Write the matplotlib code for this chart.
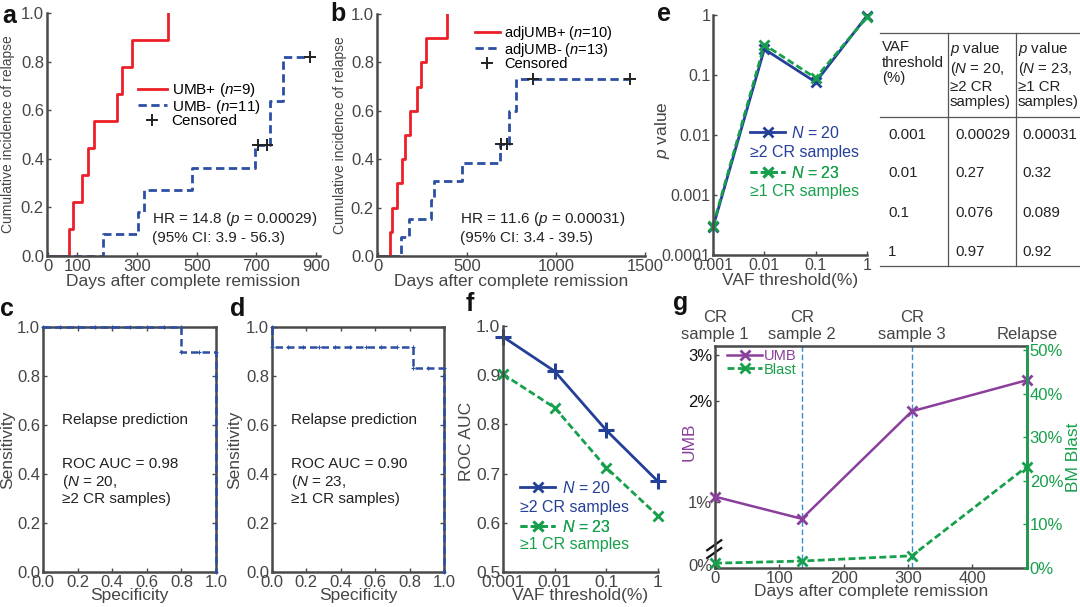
import matplotlib
matplotlib.use("Agg")
import matplotlib.pyplot as plt
from matplotlib.lines import Line2D
import matplotlib.ticker as mticker

plt.rcParams["font.family"] = ["Liberation Sans", "DejaVu Sans"]
plt.rcParams["mathtext.fontset"] = "custom"
plt.rcParams["mathtext.rm"] = "Liberation Sans"
plt.rcParams["mathtext.it"] = "Liberation Sans:italic"

# ---- data ----
# a: cumulative incidence, UMB+ / UMB-
umb_pos_days = [0, 73, 86, 114, 136, 156, 231, 251, 282, 402]
umb_pos_cir = [0, 0.111, 0.222, 0.333, 0.444, 0.556, 0.667, 0.778, 0.889, 1.0]
umb_neg_days = [0, 187, 302, 324, 485, 695, 745, 790, 880]
umb_neg_cir = [0, 0.091, 0.182, 0.273, 0.364, 0.455, 0.636, 0.818, 0.818]
umb_neg_cens_days = [705, 735, 880]
umb_neg_cens_cir = [0.455, 0.455, 0.818]

# b: adjusted UMB
adj_pos_days = [0, 64, 79, 107, 135, 150, 179, 220, 242, 267, 389]
adj_pos_cir = [0, 0.1, 0.2, 0.3, 0.4, 0.5, 0.6, 0.7, 0.8, 0.9, 1.0]
adj_neg_days = [0, 130, 173, 299, 314, 474, 684, 735, 775, 1413]
adj_neg_cir = [0, 0.077, 0.154, 0.231, 0.308, 0.385, 0.462, 0.6, 0.731, 0.731]
adj_neg_cens_days = [692, 725, 870, 1413]
adj_neg_cens_cir = [0.462, 0.462, 0.731, 0.731]

# c, d: ROC curves
spec_c = [0.0, 0.1, 0.2, 0.3, 0.4, 0.5, 0.6, 0.7, 0.8, 0.8, 0.9, 1.0, 1.0]
sens_c = [1.0, 1.0, 1.0, 1.0, 1.0, 1.0, 1.0, 1.0, 1.0, 0.9, 0.9, 0.9, 0.0]
spec_d = [0.0, 0.0, 0.091, 0.182, 0.273, 0.364, 0.455, 0.545, 0.636, 0.727,
          0.818, 0.818, 0.909, 1.0, 1.0]
sens_d = [1.0, 0.917, 0.917, 0.917, 0.917, 0.917, 0.917, 0.917, 0.917, 0.917,
          0.917, 0.833, 0.833, 0.833, 0.0]

# e, f: VAF threshold sweep
vaf_thresholds = [0.001, 0.01, 0.1, 1]
pval_n20 = [0.00029, 0.27, 0.076, 0.97]
pval_n23 = [0.00031, 0.32, 0.089, 0.92]
auc_n20 = [0.978, 0.908, 0.788, 0.684]
auc_n23 = [0.902, 0.834, 0.712, 0.614]

# g: single patient course
g_days = [0, 135, 306, 485]
g_umb = [1.05, 0.83, 1.9, 2.21]
g_blast = [1.1, 1.6, 2.8, 23.3]
g_events = ["CR\nsample 1", "CR\nsample 2", "CR\nsample 3", "Relapse"]

RED = "#ec1f27"
BLUE = "#2c4ea3"
DBLUE = "#243f98"
GREEN = "#17a04b"
PURPLE = "#8a3f9c"
LBLUE = "#3a8fd2"
GREY = "#454545"
INK = "#222222"
SPINE = "#4a4a4a"
DASH = (0, (3, 1.6))
DOT = (0, (2.5, 1.2))

W, H = 1080, 607
fig = plt.figure(figsize=(W / 100, H / 100), dpi=100)


def px_axes(left, top, right, bottom):
    return fig.add_axes([left / W, 1 - bottom / H, (right - left) / W, (bottom - top) / H])


def fig_text(x, y, s, **kw):
    fig.text(x / W, 1 - y / H, s, **kw)


def style(ax, box=False, fs=12):
    for side in ["left", "bottom", "top", "right"]:
        ax.spines[side].set_color(SPINE)
        ax.spines[side].set_linewidth(1.8)
        if not box and side in ("top", "right"):
            ax.spines[side].set_visible(False)
    ax.tick_params(direction="in", length=3, width=1, colors=SPINE,
                   labelcolor=GREY, labelsize=fs, pad=2,
                   top=box, right=box)


def one_legend(ax, handle, label, x, y, color, fs=11.5):
    leg = ax.legend([handle], [label], loc="center left", bbox_to_anchor=(x, y),
                    frameon=False, fontsize=fs, handlelength=2.2, handletextpad=0.4,
                    borderaxespad=0, borderpad=0)
    leg.get_texts()[0].set_color(color)
    ax.add_artist(leg)


# ---------- a ----------
ax = px_axes(46.7, 13, 320, 256)
style(ax)
ax.step(umb_pos_days, umb_pos_cir, where="post", color=RED, lw=2, label="UMB+ ($n$=9)")
ax.step(umb_neg_days, umb_neg_cir, where="post", color=BLUE, lw=2, ls=DASH,
        label="UMB- ($n$=11)")
ax.plot(umb_neg_cens_days, umb_neg_cens_cir, ls="none", marker="+", ms=9, mew=1.4,
        color=INK, label="Censored", clip_on=False)
ax.set_xlim(-3, 913)
ax.set_ylim(0, 1.0)
ax.set_xticks([0, 100, 300, 500, 700, 900])
ax.set_yticks([0, 0.2, 0.4, 0.6, 0.8, 1.0])
ax.yaxis.set_major_formatter(mticker.FormatStrFormatter("%.1f"))
ax.set_xlabel("Days after complete remission", fontsize=12.5, color=GREY, labelpad=0)
ax.set_ylabel("Cumulative incidence of relapse", fontsize=10, color=GREY)
ax.yaxis.set_label_coords(-0.116, 0.5)
ax.legend(loc="upper left", bbox_to_anchor=(0.334, 0.72), frameon=False, fontsize=11,
          handlelength=1.9, handletextpad=0.3, labelspacing=-0.1, borderaxespad=0,
          borderpad=0)
ax.text(0.385, 0.19, "HR = 14.8 ($p$ = 0.00029)\n(95% CI: 3.9 - 56.3)",
        transform=ax.transAxes, fontsize=11, color=INK, va="top", linespacing=1.25)

# ---------- b ----------
ax = px_axes(376.7, 14, 645, 256)
style(ax)
ax.step(adj_pos_days, adj_pos_cir, where="post", color=RED, lw=2, label="adjUMB+ ($n$=10)")
ax.step(adj_neg_days, adj_neg_cir, where="post", color=BLUE, lw=2, ls=DASH,
        label="adjUMB- ($n$=13)")
ax.plot(adj_neg_cens_days, adj_neg_cens_cir, ls="none", marker="+", ms=9, mew=1.4,
        color=INK, label="Censored", clip_on=False)
ax.set_xlim(-8, 1500)
ax.set_ylim(0, 1.0)
ax.set_xticks([0, 500, 1000, 1500])
ax.set_yticks([0, 0.2, 0.4, 0.6, 0.8, 1.0])
ax.yaxis.set_major_formatter(mticker.FormatStrFormatter("%.1f"))
ax.set_xlabel("Days after complete remission", fontsize=12.5, color=GREY, labelpad=0)
ax.set_ylabel("Cumulative incidence of relapse", fontsize=10, color=GREY)
ax.yaxis.set_label_coords(-0.11, 0.5)
ax.legend(loc="upper left", bbox_to_anchor=(0.366, 0.96), frameon=False, fontsize=10.5,
          handlelength=1.7, handletextpad=0.3, labelspacing=-0.08, borderaxespad=0,
          borderpad=0)
ax.text(0.31, 0.19, "HR = 11.6 ($p$ = 0.00031)\n(95% CI: 3.4 - 39.5)",
        transform=ax.transAxes, fontsize=11, color=INK, va="top", linespacing=1.25)

# ---------- c, d ----------
for left, right, spec, sens, auc, n, k, lx in [
        (43, 216, spec_c, sens_c, "0.98", "20", "2", -0.162),
        (272, 444, spec_d, sens_d, "0.90", "23", "1", -0.174)]:
    ax = px_axes(left, 327, right, 572)
    style(ax, box=True, fs=12)
    ax.plot(spec, sens, color=BLUE, lw=1.8, ls=DASH, marker="+", ms=3, mew=0.8,
            clip_on=False, zorder=3)
    ax.set_xlim(0, 1)
    ax.set_ylim(0, 1)
    ticks = [0, 0.2, 0.4, 0.6, 0.8, 1.0]
    ax.set_xticks(ticks)
    ax.set_yticks(ticks)
    ax.xaxis.set_major_formatter(mticker.FormatStrFormatter("%.1f"))
    ax.yaxis.set_major_formatter(mticker.FormatStrFormatter("%.1f"))
    ax.set_xlabel("Specificity", fontsize=12.5, color=GREY, labelpad=-1)
    ax.set_ylabel("Sensitivity", fontsize=12.5, color=GREY)
    ax.yaxis.set_label_coords(lx, 0.5)
    ax.text(0.11, 0.62, "Relapse prediction", transform=ax.transAxes, fontsize=11,
            color=INK, va="center")
    ax.text(0.11, 0.47, f"ROC AUC = {auc}\n($N$ = {n},\n≥{k} CR samples)",
            transform=ax.transAxes, fontsize=11, color=INK, va="top",
            linespacing=1.15)

# ---------- e ----------
ax = px_axes(713, 15, 867, 255)
style(ax, fs=11.5)
le20, = ax.plot(vaf_thresholds, pval_n20, color=DBLUE, lw=2, marker="x", ms=7, mew=2,
                clip_on=False)
le23, = ax.plot(vaf_thresholds, pval_n23, color=GREEN, lw=2, ls=DOT,
                marker="x", ms=7, mew=2, clip_on=False)
ax.set_xscale("log")
ax.set_yscale("log")
ax.set_xlim(0.001, 1)
ax.set_ylim(1e-4, 1)
ax.set_xticks(vaf_thresholds)
ax.set_xticklabels(["0.001", "0.01", "0.1", "1"])
ax.set_yticks([1e-4, 1e-3, 1e-2, 1e-1, 1])
ax.set_yticklabels(["0.0001", "0.001", "0.01", "0.1", "1"])
ax.minorticks_off()
ax.set_xlabel("VAF threshold(%)", fontsize=12.5, color=GREY, labelpad=0)
ax.set_ylabel("$p$ value", fontsize=12.5, color=GREY)
ax.yaxis.set_label_coords(-0.266, 0.52)
one_legend(ax, le20, "$N$ = 20", 0.24, 0.508, DBLUE)
one_legend(ax, le23, "$N$ = 23", 0.24, 0.342, GREEN)
ax.text(0.24, 0.429, "≥2 CR samples", transform=ax.transAxes, fontsize=11.5,
        color=DBLUE, va="center")
ax.text(0.24, 0.2625, "≥1 CR samples", transform=ax.transAxes, fontsize=11.5,
        color=GREEN, va="center")

# table next to e
line_kw = dict(color="#555555", lw=0.9)
for y in (33.3, 116.7, 266):
    fig.add_artist(Line2D([880 / W, 1], [1 - y / H, 1 - y / H], **line_kw))
for x in (947.7, 1015.7):
    fig.add_artist(Line2D([x / W, x / W], [1 - 33.3 / H, 1 - 266 / H], **line_kw))
head_kw = dict(fontsize=10.8, color=INK, va="top", linespacing=1.15)
fig_text(882, 40, "VAF\nthreshold\n(%)", **head_kw)
fig_text(950, 40, "$p$ value\n($N$ = 20,\n≥2 CR\nsamples)", **head_kw)
fig_text(1018, 40, "$p$ value\n($N$ = 23,\n≥1 CR\nsamples)", **head_kw)
for row_y, vaf, p20, p23 in zip([135, 173, 213, 252], vaf_thresholds, pval_n20, pval_n23):
    fig_text(888, row_y, f"{vaf:g}", fontsize=10.8, color=INK, va="center")
    fig_text(955, row_y, f"{p20:g}", fontsize=10.8, color=INK, va="center")
    fig_text(1022, row_y, f"{p23:g}", fontsize=10.8, color=INK, va="center")

# ---------- f ----------
ax = px_axes(503, 326, 658, 572)
style(ax, fs=12.5)
lf20, = ax.plot(vaf_thresholds, auc_n20, color=DBLUE, lw=2, marker="+", ms=11, mew=2.2,
                clip_on=False)
lf23, = ax.plot(vaf_thresholds, auc_n23, color=GREEN, lw=2, ls=DOT, marker="x",
                ms=7, mew=2, clip_on=False)
ax.set_xscale("log")
ax.set_xlim(0.001, 1)
ax.set_ylim(0.5, 1.0)
ax.set_xticks(vaf_thresholds)
ax.set_xticklabels(["0.001", "0.01", "0.1", "1"])
ax.minorticks_off()
ax.set_yticks([0.5, 0.6, 0.7, 0.8, 0.9, 1.0])
ax.yaxis.set_major_formatter(mticker.FormatStrFormatter("%.1f"))
ax.set_xlabel("VAF threshold(%)", fontsize=12.5, color=GREY, labelpad=-1)
ax.set_ylabel("ROC AUC", fontsize=12.5, color=GREY)
ax.yaxis.set_label_coords(-0.19, 0.53)
one_legend(ax, Line2D([], [], color=DBLUE, lw=2, marker="x", ms=7, mew=2),
           "$N$ = 20", 0.11, 0.3415, DBLUE)
one_legend(ax, lf23, "$N$ = 23", 0.11, 0.183, GREEN)
ax.text(0.11, 0.264, "≥2 CR samples", transform=ax.transAxes, fontsize=11.5,
        color=DBLUE, va="center")
ax.text(0.11, 0.11, "≥1 CR samples", transform=ax.transAxes, fontsize=11.5,
        color=GREEN, va="center")

# ---------- g ----------
ax = px_axes(715, 346, 1027, 568)
style(ax, box=True)
ax.tick_params(right=False, top=False)
ax2 = ax.twinx()
for d in g_days[1:3]:
    ax.axvline(d, color=LBLUE, lw=1, ls=(0, (4, 2)), zorder=1)
l_umb, = ax.plot(g_days, g_umb, color=PURPLE, lw=1.8, marker="x", ms=7, mew=2,
                 clip_on=False, zorder=3)
l_bl, = ax2.plot(g_days, g_blast, color=GREEN, lw=2, ls=DOT, marker="x",
                 ms=7, mew=2, clip_on=False, zorder=3)
ax.set_xlim(0, 485)
ax.set_ylim(0.34, 2.55)
ax.set_yticks([0.37, 1, 2, 2.46])
ax.set_yticklabels(["0%", "1%", "2%", "3%"])
for lbl, c in zip(ax.get_yticklabels(), [GREY, GREY, "#111111", "#111111"]):
    lbl.set_color(c)
ax.set_xticks([0, 100, 200, 300, 400])
ax.set_xlabel("Days after complete remission", fontsize=12.5, color=GREY, labelpad=-1)
ax.set_ylabel("UMB", fontsize=12.5, color=PURPLE)
ax.yaxis.set_label_coords(-0.058, 0.57)
ax2.set_ylim(0, 51)
ax2.set_yticks([0, 10, 20, 30, 40, 50])
ax2.yaxis.set_major_formatter(mticker.FormatStrFormatter("%d%%"))
for side in ["left", "bottom", "top"]:
    ax2.spines[side].set_visible(False)
ax2.spines["right"].set_color(GREEN)
ax2.spines["right"].set_linewidth(1.8)
ax2.tick_params(direction="in", length=3, width=1, colors=GREEN, labelsize=12, pad=2)
ax2.set_ylabel("BM Blast", fontsize=12.5, color=GREEN, labelpad=2)
ax2.legend([l_umb, l_bl], ["UMB", "Blast"], loc="upper left",
           bbox_to_anchor=(0.04, 0.985), frameon=False, fontsize=10.5,
           handlelength=2.4, handletextpad=0.1, labelspacing=-0.05, borderaxespad=0,
           borderpad=0, labelcolor=[PURPLE, GREEN])
for d, s in zip(g_days, g_events):
    ax.text(d, 1.02, s, transform=ax.get_xaxis_transform(), ha="center", va="bottom",
            fontsize=12, color=GREY, linespacing=1.1)
for y0 in (0.045, 0.08):
    ax.plot([-0.025, 0.02], [y0, y0 + 0.045], transform=ax.transAxes, color="#111111",
            lw=1.6, clip_on=False)

# panel letters
for s, x, y in [("a", 2, 4), ("b", 330, 2), ("c", 0, 297), ("d", 230, 297),
                ("e", 657, 2), ("f", 466, 292), ("g", 673, 291)]:
    fig_text(x, y, s, fontsize=18, fontweight="bold", va="top", color="#111111")

fig.savefig("out.png", dpi=100)
